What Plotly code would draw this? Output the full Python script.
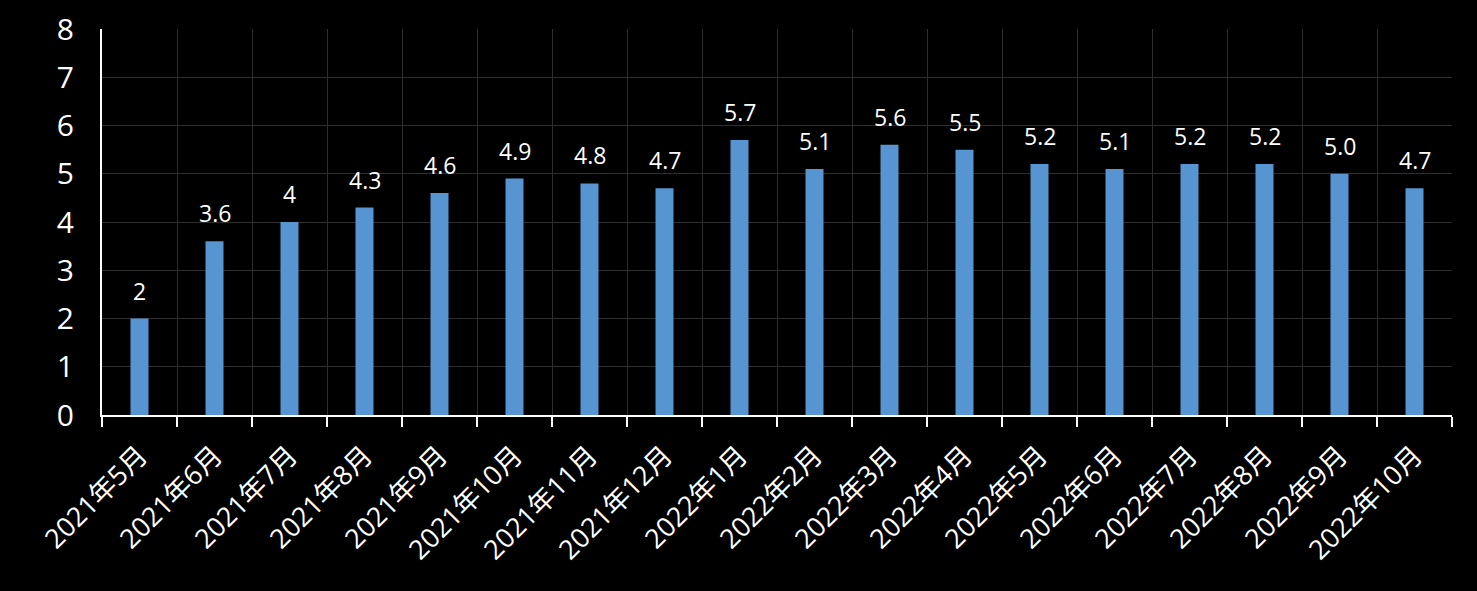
import plotly.graph_objects as go

categories = ["2021年5月", "2021年6月", "2021年7月", "2021年8月", "2021年9月", "2021年10月",
              "2021年11月", "2021年12月", "2022年1月", "2022年2月", "2022年3月", "2022年4月",
              "2022年5月", "2022年6月", "2022年7月", "2022年8月", "2022年9月", "2022年10月"]
values = [2, 3.6, 4, 4.3, 4.6, 4.9, 4.8, 4.7, 5.7, 5.1, 5.6, 5.5, 5.2, 5.1, 5.2, 5.2, 5.0, 4.7]
labels = ["2", "3.6", "4", "4.3", "4.6", "4.9", "4.8", "4.7", "5.7", "5.1", "5.6", "5.5",
          "5.2", "5.1", "5.2", "5.2", "5.0", "4.7"]
y_ticks = [0, 1, 2, 3, 4, 5, 6, 7, 8]

FONT = "Open Sans, Noto Sans CJK SC, sans-serif"

fig = go.Figure()
fig.add_trace(go.Bar(
    x=categories, y=values, width=0.24,
    marker=dict(color="#5694d2", line=dict(width=0)),
    hoverinfo="x+y",
))
for c, v, t in zip(categories, values, labels):
    fig.add_annotation(x=c, y=v, text=t, showarrow=False, yanchor="bottom", yshift=10,
                       font=dict(family=FONT, size=23, color="white"))

fig.update_layout(
    width=1477, height=591,
    paper_bgcolor="black", plot_bgcolor="black",
    margin=dict(l=102, r=25, t=29, b=176, autoexpand=False),
    showlegend=False,
    font=dict(family=FONT, color="white"),
    xaxis=dict(
        type="category", tickson="boundaries", ticks="outside", ticklen=10, tickwidth=2,
        tickcolor="white", showline=True, linecolor="white", linewidth=2,
        showgrid=True, gridcolor="#2e2e2e", gridwidth=1, automargin=False,
        tickangle=-45, ticklabelstandoff=12,
        tickfont=dict(family=FONT, size=27, color="white"),
    ),
    yaxis=dict(
        range=[0, 8], tickvals=y_ticks, showline=True, linecolor="white", linewidth=2,
        showgrid=True, gridcolor="#2e2e2e", gridwidth=1, zeroline=False, automargin=False,
        ticks="", ticklabelstandoff=20,
        tickfont=dict(family=FONT, size=30, color="white"),
    ),
)
fig.write_html("out.html", config={"displayModeBar": False},
               post_script="document.body.style.margin='0';document.body.style.background='black';")
